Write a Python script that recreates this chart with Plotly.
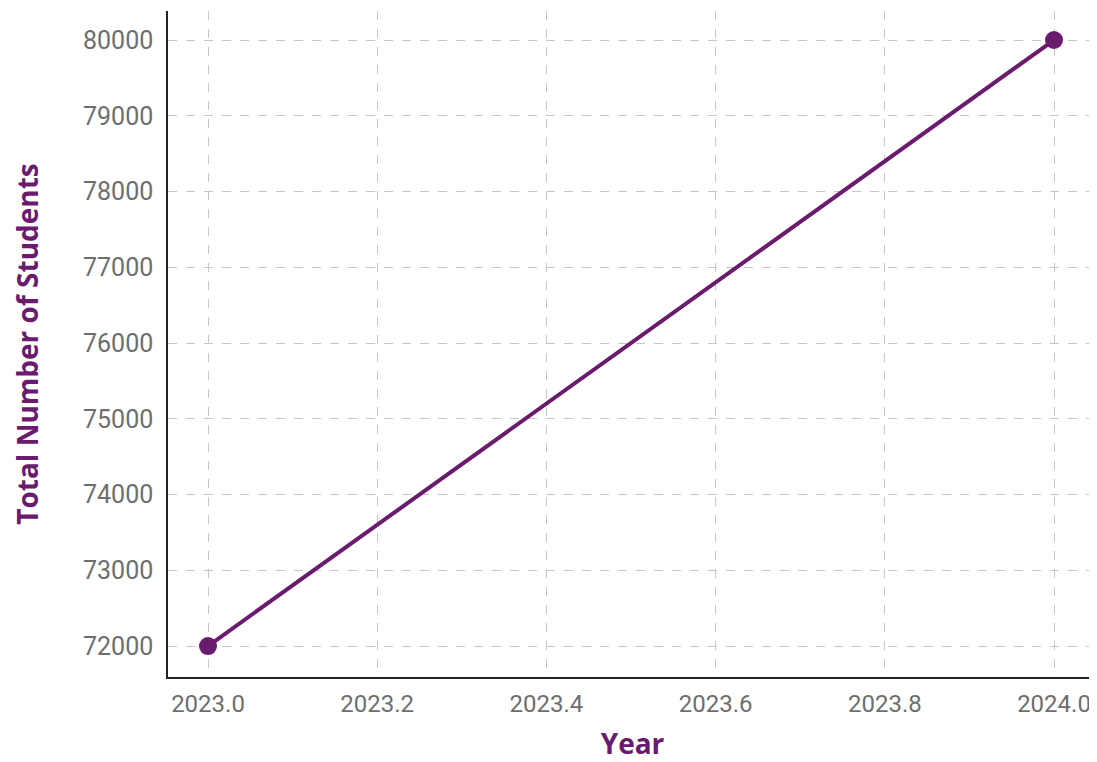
import plotly.graph_objects as go

# data
years = [2023, 2024]
students = [72000, 80000]

x_ticks = [2023.0, 2023.2, 2023.4, 2023.6, 2023.8, 2024.0]
x_labels = ["2023.0", "2023.2", "2023.4", "2023.6", "2023.8", "2024.0"]
y_ticks = [72000, 73000, 74000, 75000, 76000, 77000, 78000, 79000, 80000]
y_labels = [str(v) for v in y_ticks]

purple = "#6a1b6e"
tick_grey = "#6e6e6e"
tick_font = "Roboto, 'Open Sans', sans-serif"
title_font = "'Open Sans', Roboto, sans-serif"

fig = go.Figure()
fig.add_trace(go.Scatter(
    x=years, y=students, mode="lines+markers",
    line=dict(color=purple, width=4),
    marker=dict(color=purple, size=18),
    showlegend=False,
))

# page body has an 8px margin, so the figure is 8px smaller and offsets shifted
fig.update_layout(
    width=1089, height=754,
    margin=dict(l=160, r=0, t=3, b=85, autoexpand=False),
    paper_bgcolor="white", plot_bgcolor="white",
    font=dict(family=tick_font),
)

fig.update_xaxes(
    range=[2022.9527, 2024.0508], automargin=False,
    tickvals=x_ticks, ticktext=x_labels,
    tickfont=dict(size=24, color=tick_grey),
    showgrid=True, gridcolor="#c6c6c6", gridwidth=1, griddash="dash",
    showline=True, linecolor="#222222", linewidth=1.5,
    zeroline=False, ticks="", ticklabelstandoff=4,
    title=dict(text="<b>Year</b>", font=dict(size=28, color=purple, family=title_font), standoff=24),
)
fig.update_yaxes(
    range=[71591, 80383], automargin=False,
    tickvals=y_ticks, ticktext=y_labels,
    tickfont=dict(size=25, color=tick_grey),
    showgrid=True, gridcolor="#c6c6c6", gridwidth=1, griddash="dash",
    showline=True, linecolor="#222222", linewidth=1.5,
    zeroline=False, ticks="", ticklabelstandoff=8,
    title=dict(text="<b>Total Number of Students</b>", font=dict(size=28, color=purple, family=title_font), standoff=46),
)

fig.write_html("out.html")
